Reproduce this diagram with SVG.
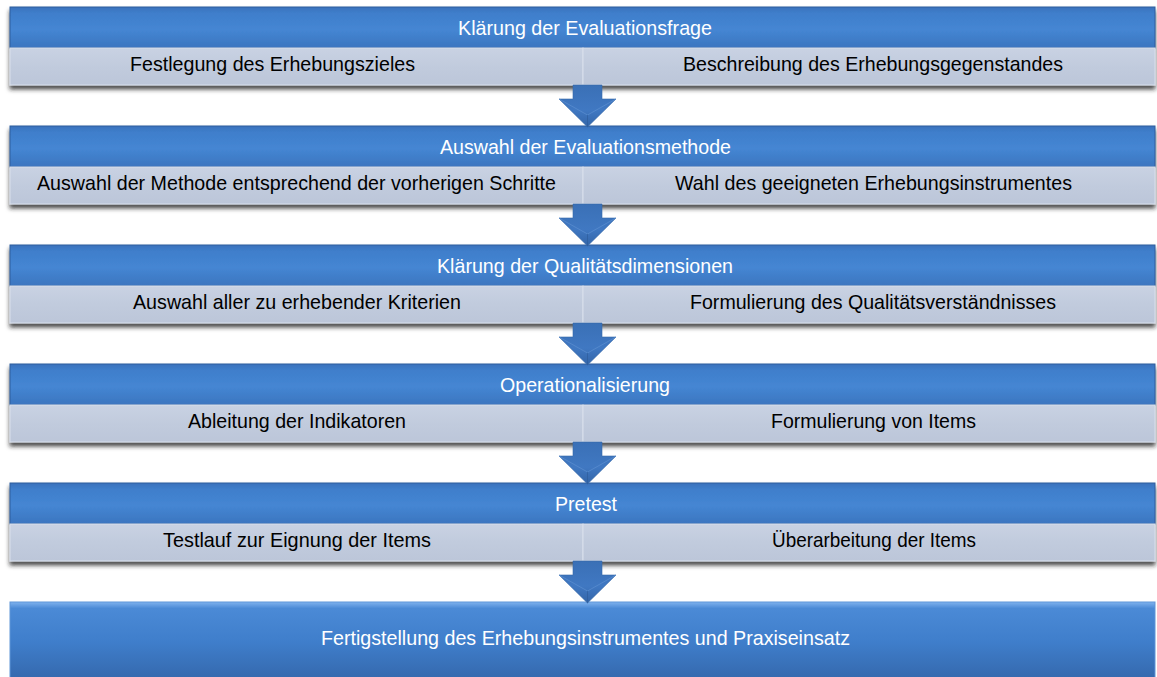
<svg xmlns="http://www.w3.org/2000/svg" width="1157" height="677" viewBox="0 0 1157 677">
<style>
.hd{font-family:"Liberation Sans",Arial,sans-serif;font-size:21px;fill:#ffffff;text-anchor:middle}
.sb{font-family:"Liberation Sans",Arial,sans-serif;font-size:21px;fill:#000000;text-anchor:middle}
.hdr{fill:url(#gHead);stroke:#2f5f9e;stroke-width:1}
.sub{fill:url(#gSub);stroke:#d9e0ec;stroke-width:1}
.arr{fill:url(#gArr);stroke:#3568a8;stroke-width:0.6}
</style>
<defs>
<linearGradient id="gHead" x1="0" y1="0" x2="0" y2="1">
<stop offset="0" stop-color="#3a72bc"/>
<stop offset="0.15" stop-color="#3f7ecb"/>
<stop offset="0.55" stop-color="#4586d3"/>
<stop offset="1" stop-color="#3b75bf"/>
</linearGradient>
<linearGradient id="gSub" x1="0" y1="0" x2="0" y2="1">
<stop offset="0" stop-color="#c9d2e3"/>
<stop offset="0.5" stop-color="#c1cbdd"/>
<stop offset="1" stop-color="#bcc6d9"/>
</linearGradient>
<linearGradient id="gFin" x1="0" y1="0" x2="0" y2="1">
<stop offset="0" stop-color="#7fb2ee"/>
<stop offset="0.08" stop-color="#4b8ad6"/>
<stop offset="0.5" stop-color="#3f7ecb"/>
<stop offset="1" stop-color="#3467ab"/>
</linearGradient>
<linearGradient id="gArr" x1="0" y1="0" x2="0" y2="1">
<stop offset="0" stop-color="#3a70b6"/>
<stop offset="0.6" stop-color="#4078c2"/>
<stop offset="1" stop-color="#3365a8"/>
</linearGradient>
<filter id="sh" x="-2%" y="-20%" width="104%" height="150%">
<feDropShadow dx="0" dy="4" stdDeviation="2" flood-color="#222222" flood-opacity="0.8"/>
</filter>
<g id="arrowShape">
<polygon class="arr" points="573,0 602,0 602,14 616,14 587.5,42 559,14 573,14"/>
<polyline points="559,14 587.5,30 616,14" fill="none" stroke="#5b8fd0" stroke-width="1" opacity="0.7"/>
<line x1="587.5" y1="30" x2="587.5" y2="42" stroke="#2c5a98" stroke-width="1" opacity="0.6"/>
</g>
</defs>

<g id="block1">
<g filter="url(#sh)">
<rect class="hdr" x="10" y="7" width="1145" height="41"/>
<rect class="sub" x="10" y="48" width="573" height="37"/>
<rect class="sub" x="583" y="48" width="572" height="37"/>
</g>
<text class="hd" x="585" y="35" textLength="254" lengthAdjust="spacingAndGlyphs">Klärung der Evaluationsfrage</text>
<text class="sb" x="272.5" y="71" textLength="285" lengthAdjust="spacingAndGlyphs">Festlegung des Erhebungszieles</text>
<text class="sb" x="873" y="71" textLength="380" lengthAdjust="spacingAndGlyphs">Beschreibung des Erhebungsgegenstandes</text>
</g>

<g id="block2">
<g filter="url(#sh)">
<rect class="hdr" x="10" y="126" width="1145" height="41"/>
<rect class="sub" x="10" y="167" width="573" height="37"/>
<rect class="sub" x="583" y="167" width="572" height="37"/>
</g>
<text class="hd" x="585.5" y="154" textLength="291" lengthAdjust="spacingAndGlyphs">Auswahl der Evaluationsmethode</text>
<text class="sb" x="296.5" y="190" textLength="519" lengthAdjust="spacingAndGlyphs">Auswahl der Methode entsprechend der vorherigen Schritte</text>
<text class="sb" x="873.5" y="190" textLength="397" lengthAdjust="spacingAndGlyphs">Wahl des geeigneten Erhebungsinstrumentes</text>
</g>

<g id="block3">
<g filter="url(#sh)">
<rect class="hdr" x="10" y="245" width="1145" height="41"/>
<rect class="sub" x="10" y="286" width="573" height="37"/>
<rect class="sub" x="583" y="286" width="572" height="37"/>
</g>
<text class="hd" x="585" y="273" textLength="296" lengthAdjust="spacingAndGlyphs">Klärung der Qualitätsdimensionen</text>
<text class="sb" x="297" y="309" textLength="328" lengthAdjust="spacingAndGlyphs">Auswahl aller zu erhebender Kriterien</text>
<text class="sb" x="873" y="309" textLength="366" lengthAdjust="spacingAndGlyphs">Formulierung des Qualitätsverständnisses</text>
</g>

<g id="block4">
<g filter="url(#sh)">
<rect class="hdr" x="10" y="364" width="1145" height="41"/>
<rect class="sub" x="10" y="405" width="573" height="37"/>
<rect class="sub" x="583" y="405" width="572" height="37"/>
</g>
<text class="hd" x="585" y="392" textLength="170" lengthAdjust="spacingAndGlyphs">Operationalisierung</text>
<text class="sb" x="297" y="428" textLength="218" lengthAdjust="spacingAndGlyphs">Ableitung der Indikatoren</text>
<text class="sb" x="873.5" y="428" textLength="205" lengthAdjust="spacingAndGlyphs">Formulierung von Items</text>
</g>

<g id="block5">
<g filter="url(#sh)">
<rect class="hdr" x="10" y="483" width="1145" height="41"/>
<rect class="sub" x="10" y="524" width="573" height="37"/>
<rect class="sub" x="583" y="524" width="572" height="37"/>
</g>
<text class="hd" x="586" y="511" textLength="62" lengthAdjust="spacingAndGlyphs">Pretest</text>
<text class="sb" x="297" y="547" textLength="268" lengthAdjust="spacingAndGlyphs">Testlauf zur Eignung der Items</text>
<text class="sb" x="874" y="547" textLength="204" lengthAdjust="spacingAndGlyphs">Überarbeitung der Items</text>
</g>

<g id="block6">
<rect x="10" y="602" width="1145" height="80" fill="url(#gFin)" stroke="#5f95d8" stroke-width="1"/>
<text class="hd" x="585.5" y="645" textLength="529" lengthAdjust="spacingAndGlyphs">Fertigstellung des Erhebungsinstrumentes und Praxiseinsatz</text>
</g>

<g id="connectors">
<use href="#arrowShape" transform="translate(0,85)"/>
<use href="#arrowShape" transform="translate(0,204)"/>
<use href="#arrowShape" transform="translate(0,323)"/>
<use href="#arrowShape" transform="translate(0,442)"/>
<use href="#arrowShape" transform="translate(0,561)"/>
</g>
</svg>
